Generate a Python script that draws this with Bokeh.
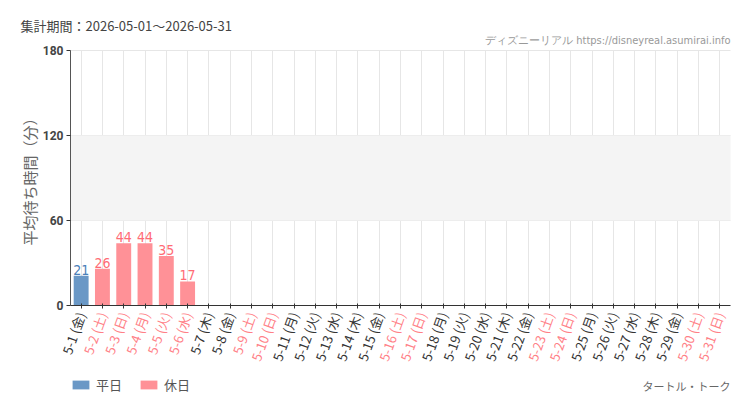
import math
from bokeh.plotting import figure
from bokeh.models import (ColumnDataSource, Range1d, LabelSet, Label, Legend, LegendItem,
                          LinearAxis, FixedTicker, BoxAnnotation)
from bokeh.core.properties import value
from bokeh.embed import file_html
from bokeh.resources import INLINE

# ---- data ----
days = ["5-1", "5-2", "5-3", "5-4", "5-5", "5-6", "5-7", "5-8", "5-9", "5-10",
        "5-11", "5-12", "5-13", "5-14", "5-15", "5-16", "5-17", "5-18", "5-19", "5-20",
        "5-21", "5-22", "5-23", "5-24", "5-25", "5-26", "5-27", "5-28", "5-29", "5-30", "5-31"]
day_of_month = [1, 2, 3, 4, 5, 6, 7, 8, 9, 10, 11, 12, 13, 14, 15, 16, 17, 18, 19, 20,
                21, 22, 23, 24, 25, 26, 27, 28, 29, 30, 31]
weekday_names = ["金", "土", "日", "月", "火", "水", "木", "金", "土", "日",
                 "月", "火", "水", "木", "金", "土", "日", "月", "火", "水",
                 "木", "金", "土", "日", "月", "火", "水", "木", "金", "土", "日"]
is_holiday = [0, 1, 1, 1, 1, 1, 0, 0, 1, 1,
              0, 0, 0, 0, 0, 1, 1, 0, 0, 0,
              0, 0, 1, 1, 0, 0, 0, 0, 0, 1, 1]
wait_day = [1, 2, 3, 4, 5, 6]
wait_minutes = [21, 26, 44, 44, 35, 17]
y_ticks = [0, 60, 120, 180]
y_max = 180

title_text = "集計期間：2026-05-01〜2026-05-31"
credit_text = "ディズニーリアル https://disneyreal.asumirai.info"
attraction_text = "タートル・トーク"
y_label = "平均待ち時間（分）"
legend_labels = ["平日", "休日"]

# ---- styles / layout ----
W, H = 750, 410
PLOT_L, PLOT_R, PLOT_T, PLOT_B = 70, 730, 50, 305
WEEKDAY_BAR = "#6a98c6"
HOLIDAY_BAR = "#ff9197"
WEEKDAY_VAL = "#4a80b8"
HOLIDAY_VAL = "#ff6b75"
WEEKDAY_TXT = "#333333"
HOLIDAY_TXT = "#ff7f87"
GRID = "#e6e6e6"
JP = "Noto Sans CJK JP"
NARROW = "DejaVu Sans Condensed"

n = len(days)
x_ppu = (PLOT_R - PLOT_L) / n
y_ppu = (PLOT_B - PLOT_T) / y_max
x_range = Range1d(0.5 - PLOT_L / x_ppu, n + 0.5 + (W - PLOT_R) / x_ppu)
y_range = Range1d(-(H - PLOT_B) / y_ppu, y_max + PLOT_T / y_ppu)

p = figure(width=W, height=H, output_backend="svg", toolbar_location=None,
           x_range=x_range, y_range=y_range,
           min_border_left=0, min_border_right=0, min_border_top=0, min_border_bottom=0)
p.outline_line_color = None
p.background_fill_color = "white"
p.border_fill_color = "white"

label_of = {d: f"{s} ({w})" for d, s, w in zip(day_of_month, days, weekday_names)}
hol_days = [d for d, h in zip(day_of_month, is_holiday) if h]
wk_days = [d for d, h in zip(day_of_month, is_holiday) if not h]

# alternate band 60-120
p.add_layout(BoxAnnotation(left=0.5, right=n + 0.5, bottom=y_ticks[1], top=y_ticks[2],
                           fill_color="#f4f4f4", fill_alpha=1.0, line_color=None, level="underlay"))

# bars
wk_src = ColumnDataSource(dict(x=[d for d in wait_day if d not in hol_days],
                               top=[v for d, v in zip(wait_day, wait_minutes) if d not in hol_days]))
hd_src = ColumnDataSource(dict(x=[d for d in wait_day if d in hol_days],
                               top=[v for d, v in zip(wait_day, wait_minutes) if d in hol_days]))
r_wk = p.vbar(x="x", top="top", width=0.7, source=wk_src, fill_color=WEEKDAY_BAR, line_color=None)
r_hd = p.vbar(x="x", top="top", width=0.7, source=hd_src, fill_color=HOLIDAY_BAR, line_color=None)

# value labels
val_src = ColumnDataSource(dict(
    x=wait_day, y=wait_minutes, t=[str(v) for v in wait_minutes],
    c=[HOLIDAY_VAL if d in hol_days else WEEKDAY_VAL for d in wait_day]))
p.add_layout(LabelSet(x="x", y="y", text="t", source=val_src, text_color="c",
                      text_font=value(NARROW), text_font_size="14px",
                      text_align="center", text_baseline="bottom", y_offset=1))

# y axis
ya = p.yaxis[0]
ya.fixed_location = 0.5
ya.bounds = (0, y_max)
ya.ticker = FixedTicker(ticks=y_ticks)
ya.axis_label = y_label
ya.axis_label_text_font = JP
ya.axis_label_text_font_size = "15px"
ya.axis_label_text_font_style = "normal"
ya.axis_label_text_color = "#666666"
ya.axis_label_standoff = 0
ya.major_label_text_font = "Roboto"
ya.major_label_text_font_size = "12px"
ya.major_label_text_font_style = "bold"
ya.major_label_text_color = "#444444"
ya.axis_line_color = "#555555"
ya.major_tick_line_color = "#333333"
ya.major_tick_in = 0
ya.major_tick_out = 4
ya.minor_tick_line_color = None
ya.major_label_standoff = 3


def style_xaxis(ax, ticks, color):
    ax.fixed_location = 0
    ax.bounds = (0.5, n + 0.5)
    ax.ticker = FixedTicker(ticks=ticks)
    ax.major_label_overrides = {d: label_of[d] for d in ticks}
    ax.minor_tick_line_color = None
    ax.major_tick_in = 2
    ax.major_tick_out = 3
    ax.major_tick_line_color = "#333333"
    ax.major_label_orientation = math.radians(70)
    ax.major_label_standoff = 4
    ax.major_label_text_font = JP
    ax.major_label_text_font_size = "13px"
    ax.major_label_text_color = color


xa = p.xaxis[0]
style_xaxis(xa, wk_days, WEEKDAY_TXT)
xa.axis_line_color = "#333333"
xh = LinearAxis()
style_xaxis(xh, hol_days, HOLIDAY_TXT)
xh.axis_line_color = None
p.add_layout(xh, "below")

# grids
p.xgrid.ticker = FixedTicker(ticks=day_of_month)
p.xgrid.grid_line_color = GRID
p.xgrid.cross_bounds = (0, y_max)
p.ygrid.ticker = FixedTicker(ticks=y_ticks)
p.ygrid.grid_line_color = GRID
p.ygrid.cross_bounds = (0.5, n + 0.5)

# legend
legend = Legend(items=[LegendItem(label=legend_labels[0], renderers=[r_wk]),
                       LegendItem(label=legend_labels[1], renderers=[r_hd])],
                orientation="horizontal", location=(PLOT_L, 16),
                glyph_width=21, glyph_height=11, label_standoff=5, spacing=16,
                padding=0, margin=0, border_line_color=None, background_fill_alpha=0,
                label_text_font=JP, label_text_font_size="13px", label_text_color="#555555")
p.add_layout(legend, "center")

# texts
p.add_layout(Label(x=20, y=H - 25, x_units="screen", y_units="screen", text=title_text,
                   text_font=JP, text_font_size="13px", text_color="#444444",
                   text_baseline="middle", text_align="left"))
p.add_layout(Label(x=PLOT_R, y=H - 40, x_units="screen", y_units="screen", text=credit_text,
                   text_font=NARROW, text_font_size="11px", text_color="#999999",
                   text_baseline="middle", text_align="right"))
p.add_layout(Label(x=PLOT_R, y=H - 385, x_units="screen", y_units="screen", text=attraction_text,
                   text_font=JP, text_font_size="11px", text_color="#666666",
                   text_baseline="middle", text_align="right"))

open("out.html", "w").write(file_html(p, INLINE))
